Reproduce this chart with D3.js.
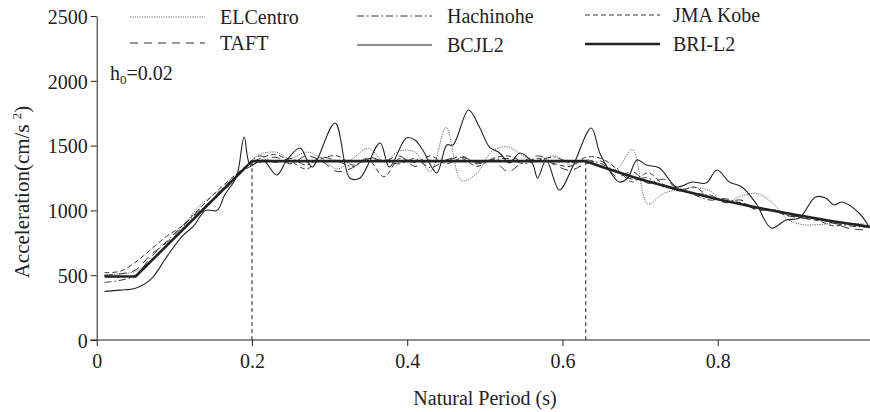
<!DOCTYPE html>
<html lang="en">
<head>
  <meta charset="UTF-8">
  <title>Acceleration response spectra</title>
  <script src="https://d3js.org/d3.v7.min.js"></script>
  <style>
    body { margin: 0; background: #fff; }
    svg, svg text { font-family: "Liberation Serif", "DejaVu Serif", serif; }
    .axis path, .axis line { stroke: #222; }
    .axis text { font-size: 20px; fill: #222; }
  </style>
</head>
<body>
  <svg width="870" height="412"></svg>

  <script>
    // shared period grid for the four records
    const periods = [0.01, 0.03, 0.05, 0.07, 0.09, 0.11, 0.13, 0.15, 0.17, 0.19,
                     0.21, 0.23, 0.25, 0.27, 0.29, 0.31, 0.33, 0.35, 0.37, 0.39,
                     0.41, 0.43, 0.45, 0.47, 0.49, 0.51, 0.53, 0.55, 0.57, 0.59,
                     0.61, 0.63, 0.65, 0.67, 0.69, 0.71, 0.73, 0.75, 0.77, 0.79,
                     0.81, 0.83, 0.85, 0.87, 0.89, 0.91, 0.93, 0.95, 0.97, 0.99];

    const elCentro = [500, 510, 530, 610, 720, 860, 1020, 1120, 1200, 1330,
                      1430, 1450, 1400, 1450, 1400, 1320, 1400, 1480, 1380, 1460,
                      1450, 1300, 1640, 1230, 1290, 1460, 1490, 1420, 1380, 1420,
                      1350, 1380, 1330, 1320, 1470, 1050, 1130, 1160, 1175, 1150,
                      1060, 1110, 1130, 1060, 930, 890, 890, 900, 900, 895];

    const hachinohe = [445, 460, 500, 640, 760, 880, 980, 1090, 1220, 1330,
                       1420, 1370, 1400, 1350, 1410, 1380, 1340, 1400, 1380, 1360,
                       1400, 1330, 1390, 1410, 1370, 1390, 1400, 1360, 1390, 1410,
                       1370, 1390, 1360, 1300, 1240, 1250, 1180, 1170, 1120, 1080,
                       1090, 1050, 1010, 1000, 960, 950, 930, 900, 880, 870];

    const jmaKobe = [520, 530, 600, 700, 800, 880, 1000, 1120, 1230, 1330,
                     1400, 1430, 1380, 1320, 1400, 1420, 1350, 1390, 1260, 1400,
                     1370, 1420, 1360, 1400, 1340, 1400, 1420, 1380, 1400, 1360,
                     1340, 1410, 1400, 1320, 1220, 1290, 1200, 1150, 1180, 1100,
                     1070, 1060, 1020, 1000, 970, 940, 920, 880, 900, 880];

    const taft = [500, 510, 540, 660, 750, 870, 990, 1080, 1190, 1310,
                  1370, 1410, 1360, 1420, 1380, 1300, 1330, 1410, 1380, 1420,
                  1340, 1390, 1380, 1420, 1360, 1390, 1300, 1380, 1420, 1350,
                  1310, 1360, 1380, 1260, 1300, 1210, 1240, 1160, 1130, 1120,
                  1060, 1080, 1000, 1010, 960, 940, 930, 900, 860, 850];

    // BCJL2 has its own (irregular) sampling
    const bcjl2T = [0.01, 0.03, 0.05, 0.07, 0.09, 0.11, 0.125, 0.14, 0.155, 0.165,
                    0.18, 0.19, 0.198, 0.214, 0.232, 0.245, 0.262, 0.271, 0.278, 0.307,
                    0.326, 0.339, 0.365, 0.377, 0.399, 0.41, 0.42, 0.438, 0.451, 0.459,
                    0.479, 0.493, 0.506, 0.519, 0.532, 0.545, 0.561, 0.568, 0.579, 0.596,
                    0.613, 0.637, 0.648, 0.66, 0.673, 0.684, 0.696, 0.708, 0.725, 0.747,
                    0.767, 0.785, 0.799, 0.815, 0.831, 0.849, 0.869, 0.888, 0.905, 0.926,
                    0.939, 0.95, 0.96, 0.982, 0.995];
    const bcjl2 = [375, 385, 400, 470, 640, 800, 880, 1000, 1000, 1120,
                   1260, 1566, 1350, 1389, 1273, 1389, 1481, 1389, 1335, 1674,
                   1250, 1250, 1520, 1335, 1559, 1543, 1466, 1289, 1505, 1505,
                   1775, 1643, 1489, 1443, 1366, 1443, 1366, 1250, 1389, 1157,
                   1335, 1636, 1443, 1312, 1219, 1250, 1389, 1350, 1327, 1181,
                   1219, 1211, 1312, 1219, 1181, 1057, 864, 926, 941, 1103,
                   1096, 1042, 1065, 980, 872];

    // BRI-L2 design spectrum
    const briT = [0.01, 0.05, 0.2, 0.63, 0.66, 0.7, 0.75, 0.8, 0.85, 0.9, 0.95, 1.0];
    const bri = [490, 490, 1380, 1380, 1317, 1241, 1159, 1086, 1022, 966, 915, 869];

    const corners = [0.2, 0.63];
    const xTicks = [0, 0.2, 0.4, 0.6, 0.8, 1];
    const yTicks = [0, 500, 1000, 1500, 2000, 2500];

    const series = [
      { name: "ELCentro",  t: periods, v: elCentro,  dash: "1.2,1.2", w: 1,   color: "#666" },
      { name: "Hachinohe", t: periods, v: hachinohe, dash: "7,3,1.5,3", w: 1, color: "#333" },
      { name: "JMA Kobe",  t: periods, v: jmaKobe,   dash: "5,3",     w: 1,   color: "#333" },
      { name: "TAFT",      t: periods, v: taft,      dash: "8,6",     w: 1,   color: "#333" },
      { name: "BCJL2",     t: bcjl2T,  v: bcjl2,     dash: null,      w: 1.1, color: "#222" },
      { name: "BRI-L2",    t: briT,    v: bri,       dash: null,      w: 2.6, color: "#222" }
    ];

    const FONT = "Liberation Serif, DejaVu Serif, serif";
    const svg = d3.select("svg").attr("font-family", FONT);

    const x = d3.scaleLinear().domain([0, 1]).range([96.7, 873]);
    const y = d3.scaleLinear().domain([0, 2500]).range([340, 16]);

    // x axis
    svg.append("g")
      .attr("class", "axis")
      .attr("transform", "translate(0,340)")
      .call(d3.axisBottom(x).tickValues(xTicks).tickSize(6).tickSizeOuter(0)
        .tickFormat(d => d === 0 ? "0" : d === 1 ? "1" : d3.format(".1f")(d)))
      .call(g => g.attr("font-family", FONT).attr("font-size", 20))
      .call(g => g.select(".domain").attr("d", "M90,0H874"))
      .call(g => g.selectAll("text").attr("dy", "0.95em"));

    // y axis
    svg.append("g")
      .attr("class", "axis")
      .attr("transform", "translate(96.7,0)")
      .call(d3.axisLeft(y).tickValues(yTicks).tickSize(6).tickSizeOuter(0).tickFormat(d3.format("d")))
      .call(g => g.attr("font-family", FONT).attr("font-size", 20))
      .call(g => g.selectAll("text").attr("x", -9).attr("dy", "0.36em"));

    // corner period guides
    svg.append("g")
      .selectAll("line")
      .data(corners)
      .join("line")
        .attr("x1", d => x(d)).attr("x2", d => x(d))
        .attr("y1", y(1380)).attr("y2", y(0))
        .attr("stroke", "#222")
        .attr("stroke-width", 1)
        .attr("stroke-dasharray", "4,3");

    const line = d3.line()
      .x(d => x(d[0]))
      .y(d => y(d[1]));

    svg.append("g")
      .selectAll("path")
      .data(series)
      .join("path")
        .attr("fill", "none")
        .attr("stroke", d => d.color)
        .attr("stroke-width", d => d.w)
        .attr("stroke-dasharray", d => d.dash)
        .attr("stroke-linejoin", "round")
        .attr("d", d => {
          line.curve(d.name === "BRI-L2" ? d3.curveLinear : d3.curveCatmullRom.alpha(0.5));
          return line(d.t.map((t, i) => [t, d.v[i]]));
        });

    // legend
    const legendPos = [
      { name: "ELCentro",  x: 130, y: 17 },
      { name: "Hachinohe", x: 357, y: 16 },
      { name: "JMA Kobe",  x: 585, y: 15 },
      { name: "TAFT",      x: 130, y: 43 },
      { name: "BCJL2",     x: 357, y: 45 },
      { name: "BRI-L2",    x: 585, y: 44 }
    ];
    const legend = svg.append("g");
    legendPos.forEach(p => {
      const s = series.find(d => d.name === p.name);
      legend.append("line")
        .attr("x1", p.x).attr("x2", p.x + 75)
        .attr("y1", p.y).attr("y2", p.y)
        .attr("stroke", s.color)
        .attr("stroke-width", s.w)
        .attr("stroke-dasharray", s.dash);
      legend.append("text")
        .attr("x", p.x + (p.x === 585 ? 88 : 90))
        .attr("y", p.y + 7)
        .attr("font-size", 20)
        .attr("fill", "#222")
        .text(p.name);
    });

    // damping note
    const note = svg.append("text")
      .attr("x", 110).attr("y", 80)
      .attr("font-size", 20)
      .attr("fill", "#222");
    note.append("tspan").text("h");
    note.append("tspan").attr("font-size", 13).attr("dy", 4).text("0");
    note.append("tspan").attr("dy", -4).text("=0.02");

    // axis titles
    svg.append("text")
      .attr("x", 485).attr("y", 405)
      .attr("text-anchor", "middle")
      .attr("font-size", 20)
      .attr("fill", "#222")
      .text("Natural Period (s)");

    const yTitle = svg.append("text")
      .attr("transform", "translate(29,192) rotate(-90)")
      .attr("text-anchor", "middle")
      .attr("font-size", 21)
      .attr("fill", "#222");
    yTitle.append("tspan").text("Acceleration(cm/s ");
    yTitle.append("tspan").attr("font-size", 13).attr("dy", -8).text("2");
    yTitle.append("tspan").attr("dy", 8).text(")");
  </script>
</body>
</html>
